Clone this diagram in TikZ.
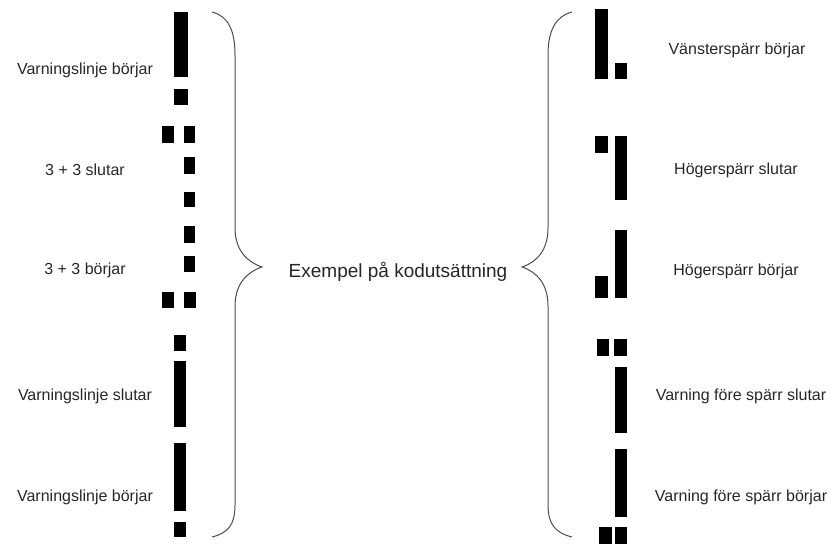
\documentclass[tikz,border=0pt]{standalone}
\usepackage{fontspec}
\setmainfont{Liberation Sans}
\begin{document}
\begin{tikzpicture}[x=1pt,y=-1pt,
  lbl/.style={inner sep=0pt, text=black!85, font=\fontsize{16}{18}\selectfont},
  title/.style={inner sep=0pt, text=black!85, font=\fontsize{19}{21}\selectfont},
  codebar/.style={fill=black, draw=none},
  brace/.style={draw=black!70, line width=1pt}]
\useasboundingbox (0,0) rectangle (834,544);
% left column code marks
\fill[codebar] (174,12) rectangle (188,77);
\fill[codebar] (174,89) rectangle (188,105);
\fill[codebar] (162,126) rectangle (174,143);
\fill[codebar] (184,126) rectangle (195,143);
\fill[codebar] (184,157) rectangle (195,174);
\fill[codebar] (184,192) rectangle (195,207);
\fill[codebar] (184,226) rectangle (195,243);
\fill[codebar] (184,256) rectangle (195,272);
\fill[codebar] (162,292) rectangle (174,308);
\fill[codebar] (184,292) rectangle (196,308);
\fill[codebar] (174,335) rectangle (186,351);
\fill[codebar] (174,361) rectangle (186,427);
\fill[codebar] (174,443) rectangle (186,511);
\fill[codebar] (174,522) rectangle (186,537);
% right column code marks
\fill[codebar] (595,9) rectangle (608,79);
\fill[codebar] (615,63) rectangle (627,79);
\fill[codebar] (595,136) rectangle (608,153);
\fill[codebar] (615,136) rectangle (627,200);
\fill[codebar] (615,230) rectangle (627,298);
\fill[codebar] (595,276) rectangle (608,298);
\fill[codebar] (597,339) rectangle (609,356);
\fill[codebar] (614,339) rectangle (627,356);
\fill[codebar] (615,367) rectangle (627,433);
\fill[codebar] (615,449) rectangle (627,517);
\fill[codebar] (599,527) rectangle (612,544);
\fill[codebar] (615,527) rectangle (627,544);
% left labels
\node[lbl] (l1) at (85,70) {Varningslinje börjar};
\node[lbl] (l2) at (85,170) {3 + 3 slutar};
\node[lbl] (l3) at (85,270) {3 + 3 börjar};
\node[lbl] (l4) at (85,396) {Varningslinje slutar};
\node[lbl] (l5) at (85,497) {Varningslinje börjar};
% right labels
\node[lbl] (r1) at (737,50) {Vänsterspärr börjar};
\node[lbl] (r2) at (736,170) {Högerspärr slutar};
\node[lbl] (r3) at (736,271) {Högerspärr börjar};
\node[lbl] (r4) at (741,396) {Varning före spärr slutar};
\node[lbl] (r5) at (741,497) {Varning före spärr börjar};
% centre label
\node[title] (c) at (398,272) {Exempel på kodutsättning};
% braces
\draw[brace] (212,12) .. controls (228,16) and (235,30) .. (235,55) -- (235,228)
  .. controls (235,250) and (247,262) .. (262,267)
  .. controls (247,272) and (235,284) .. (235,306) -- (235,505)
  .. controls (235,525) and (228,533) .. (212,537);
\draw[brace] (572,12) .. controls (556,16) and (548,30) .. (548,55) -- (548,228)
  .. controls (548,250) and (537,262) .. (522,267)
  .. controls (537,272) and (548,284) .. (548,306) -- (548,505)
  .. controls (548,525) and (556,533) .. (572,537);
\end{tikzpicture}
\end{document}
